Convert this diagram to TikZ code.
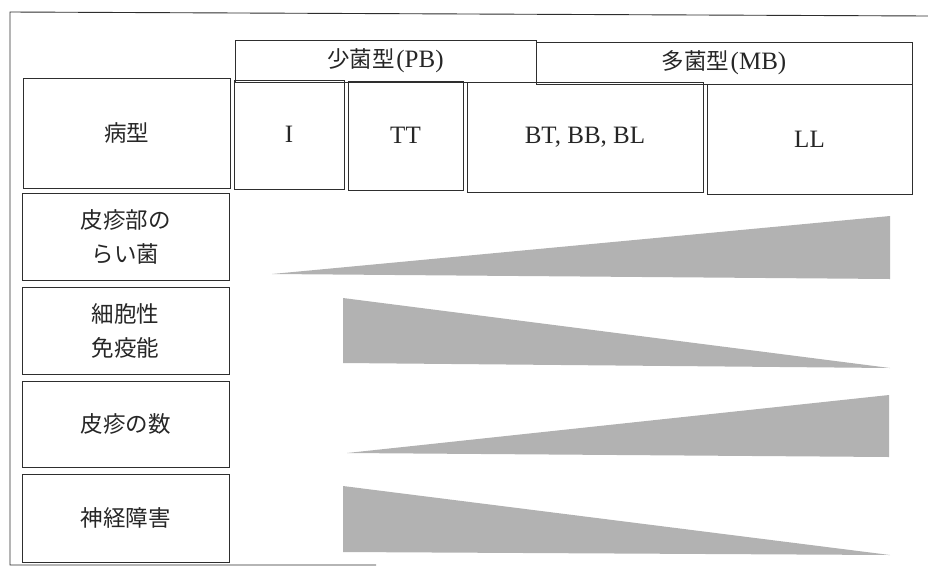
\documentclass[tikz,border=0pt]{standalone}
\usepackage{fontspec}
\setmainfont{Liberation Serif}
\newfontfamily\jp{Noto Sans CJK JP}
\definecolor{ink}{HTML}{2E2E2E}
\definecolor{wedge}{HTML}{B2B2B2}
\newcommand{\mycell}[7]{\node[cell,#6,minimum width={(#4-(#2))*1pt},minimum height={(#5-(#3))*1pt}] (#1) at ({(#2+#4)/2},{(#3+#5)/2}) {#7};}
\begin{document}
\begin{tikzpicture}[x=1pt,y=-1pt,
  cell/.style={draw=ink,line width=1pt,inner sep=0pt,align=center,text=black!85},
  jt/.style={font=\jp\fontsize{22.5}{34}\selectfont},
  lt/.style={font=\fontsize{25}{30}\selectfont},
  wedgefill/.style={fill=wedge,draw=none}]
\useasboundingbox (0,0) rectangle (928,587);
% outer frame (open on the right)
\draw[ink,line width=0.9pt] (376,565) -- (10,565) -- (10,12) -- (928,16);
% header
\mycell{pb}{235}{40}{536}{82}{lt}{{\jp\fontsize{22.5}{25}\selectfont 少菌型}\kern1.5pt(PB)}
\mycell{mb}{536}{42}{912}{84}{lt}{{\jp\fontsize{22.5}{25}\selectfont 多菌型}\kern1.5pt(MB)}
% type row
\mycell{bk}{23}{78}{230}{188}{jt}{病型}
\mycell{ti}{234}{80}{344}{189}{lt}{I}
\mycell{tt}{348}{81}{463}{190}{lt}{TT}
\mycell{tb}{467}{82}{703}{192}{lt}{BT, BB, BL}
\mycell{tl}{707}{84}{912}{194}{lt}{LL}
% row labels
\mycell{r1}{22}{193}{229}{280}{jt}{皮疹部の\\らい菌}
\mycell{r2}{22}{287}{229}{374}{jt}{細胞性\\免疫能}
\mycell{r3}{22}{381}{229}{467}{jt}{皮疹の数}
\mycell{r4}{22}{474}{229}{562}{jt}{神経障害}
% wedges
\fill[wedgefill] (272,274) -- (890,216) -- (890,279) -- cycle;
\fill[wedgefill] (343,298) -- (343,363) -- (890,368) -- cycle;
\fill[wedgefill] (347,453) -- (889,395) -- (889,457) -- cycle;
\fill[wedgefill] (343,486) -- (343,552) -- (890,555) -- cycle;
\end{tikzpicture}
\end{document}
